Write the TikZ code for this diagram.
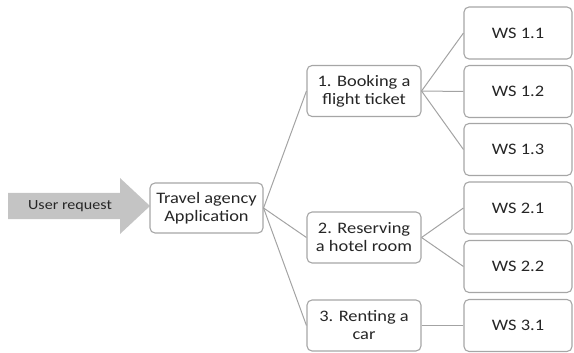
\documentclass[tikz,border=0pt]{standalone}
\usepackage{fontspec}
\setmainfont{Carlito}[FakeStretch=1.15]
\usetikzlibrary{positioning,calc}
\definecolor{Ink}{HTML}{262626}
\definecolor{Edge}{HTML}{A6A6A6}
\definecolor{Wire}{HTML}{A3A3A3}
\definecolor{Shade}{HTML}{C4C4C4}

\begin{document}
\begin{tikzpicture}[x=1pt,y=-1pt,
  box/.style={draw=Edge,line width=1.1pt,rounded corners=5pt,fill=white,text=Ink,
    align=center,inner sep=0pt,font=\fontsize{16}{18}\selectfont},
  taskbox/.style={box,minimum width=114pt,minimum height=51pt},
  wsbox/.style={box,minimum width=108pt,minimum height=52pt},
  wire/.style={draw=Wire,line width=1pt}]
\useasboundingbox (0,0) rectangle (574,353);
% request arrow
\fill[Shade] (8,193) -- (120,193) -- (120,178) -- (150,206) -- (120,234) -- (120,219) -- (8,219) -- cycle;
\node[text=Ink,font=\fontsize{14}{16}\selectfont] (user) at (70,206) {User request};
\node[box,minimum width=113pt,minimum height=50pt] (app) at (206.5,208) {Travel agency\\Application};
\node[taskbox] (task1) at (364,91) {1. Booking a\\flight ticket};
\node[taskbox] (task2) at (364,237.5) {2. Reserving\\a hotel room};
\node[taskbox] (task3) at (364,325.5) {3. Renting a\\car};
\foreach \n/\y/\t in {11/33/1.1,12/91.5/1.2,13/149.5/1.3,21/208/2.1,22/266.5/2.2,31/325.5/3.1} {
  \node[wsbox] (ws\n) at (518,\y) {WS \t};
}
\foreach \k in {1,2,3} \draw[wire] (app.east) -- (task\k.west);
\foreach \n in {11,12,13} \draw[wire] (task1.east) -- (ws\n.west);
\foreach \n in {21,22} \draw[wire] (task2.east) -- (ws\n.west);
\draw[wire] (task3.east) -- (ws31.west);
\end{tikzpicture}
\end{document}
